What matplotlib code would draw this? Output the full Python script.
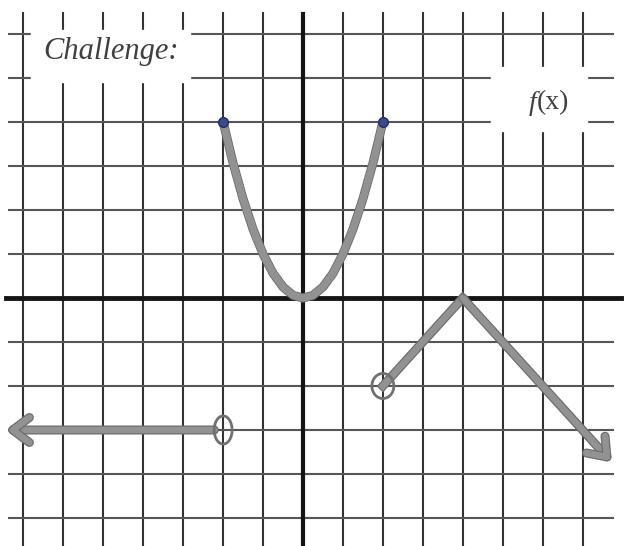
import matplotlib
matplotlib.use('Agg')
import matplotlib.pyplot as plt
import matplotlib.patheffects as pe
from matplotlib.patches import Rectangle, Ellipse
import numpy as np

# grid
grid_x = [-7, -6, -5, -4, -3, -2, -1, 1, 2, 3, 4, 5, 6, 7]
grid_y = [-5, -4, -3, -2, -1, 1, 2, 3, 4, 5, 6]

# parabola piece (closed ends)
parab_x = [-2, -1.75, -1.5, -1.25, -1, -0.75, -0.5, -0.25, 0, 0.25, 0.5, 0.75, 1, 1.25, 1.5, 1.75, 2]
parab_y = [4, 3.06, 2.25, 1.56, 1, 0.56, 0.25, 0.06, 0, 0.06, 0.25, 0.56, 1, 1.56, 2.25, 3.06, 4]

# left ray: open end at (-2,-3), arrow to the left
ray_x = [-2, -7.4]
ray_y = [-3, -3]

# tent piece: open end at (2,-2), peak (4,0), arrow down-right
tent_x = [2, 4, 7.7]
tent_y = [-2, 0, -3.7]

curve_c = '#929292'
edge = [pe.withStroke(linewidth=6.5, foreground='#6e6e6e'), pe.Normal()]

fig = plt.figure(figsize=(6.34, 5.46), dpi=100)
ax = fig.add_axes([0, 0, 1, 1])
ax.set_xlim(-303 / 39.93, (634 - 303) / 39.93)
ax.set_ylim(-(546 - 298) / 44.0, 298 / 44.0)
ax.axis('off')

ax.vlines(grid_x, -6, 6.5, color='#333333', lw=1.5, zorder=1)
ax.hlines(grid_y, -7.4, 7.8, color='#555555', lw=1.5, zorder=1)
ax.axhline(0, xmin=0.01, xmax=0.98, color='#151515', lw=3.5, zorder=2)
ax.axvline(0, ymin=0, ymax=0.975, color='#151515', lw=3, zorder=2)

# white label boxes
ax.add_patch(Rectangle((-6.8, 4.9), 3.97, 1.2, color='white', zorder=3))
ax.add_patch(Rectangle((4.72, 3.8), 2.4, 1.45, color='white', zorder=3))
ax.text(-4.8, 5.6, 'Challenge:', family='Liberation Serif', style='italic',
        fontsize=22, color='#404040', ha='center', va='center', zorder=4)
ax.text(5.85, 4.43, 'f', family='Liberation Serif', style='italic',
        fontsize=20, color='#404040', ha='right', va='center', zorder=4)
ax.text(5.85, 4.43, '(x)', family='Liberation Serif',
        fontsize=20, color='#404040', ha='left', va='center', zorder=4)

# pieces of f(x)
ax.plot(parab_x, parab_y, color=curve_c, lw=5, solid_capstyle='round',
        path_effects=edge, zorder=5)
ax.plot([parab_x[0], parab_x[-1]], [parab_y[0], parab_y[-1]], 'o', ms=7,
        color='#3b4a8c', mec='#26305e', zorder=6)

ax.annotate('', xy=(ray_x[1], ray_y[1]), xytext=(ray_x[0] - 0.22, ray_y[0]),
            arrowprops=dict(arrowstyle='->,head_length=0.6,head_width=0.45',
                            color=curve_c, lw=4.5, mutation_scale=20,
                            shrinkA=0, shrinkB=0, path_effects=edge), zorder=5)
ax.add_patch(Ellipse((ray_x[0], ray_y[0]), 0.45, 0.64, fill=False,
                     ec='#707070', lw=2, zorder=6))

ax.plot(tent_x[:2], tent_y[:2], color=curve_c, lw=4.5, path_effects=edge, zorder=5)
ax.annotate('', xy=(tent_x[2], tent_y[2]), xytext=(tent_x[1], tent_y[1]),
            arrowprops=dict(arrowstyle='->,head_length=0.6,head_width=0.45',
                            color=curve_c, lw=4.5, mutation_scale=20,
                            shrinkA=0, shrinkB=0, path_effects=edge), zorder=5)
ax.add_patch(Ellipse((tent_x[0], tent_y[0]), 0.55, 0.57, fill=False,
                     ec='#707070', lw=2, zorder=6))

fig.savefig('out.png', dpi=100, facecolor='white')
